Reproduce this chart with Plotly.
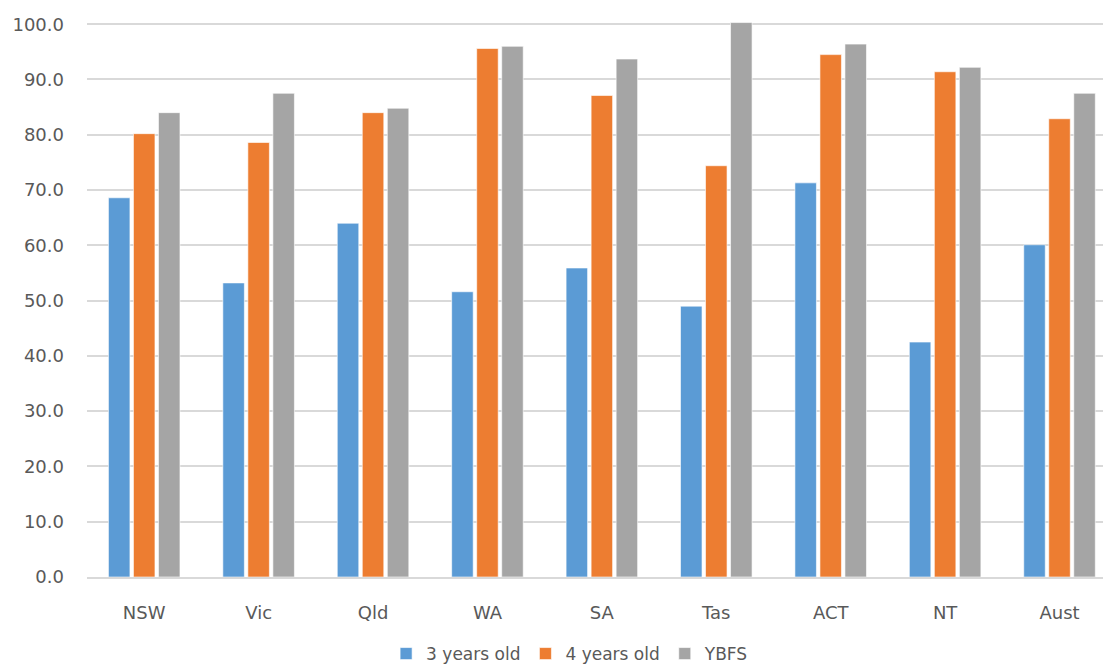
import plotly.graph_objects as go

categories = ["NSW", "Vic", "Qld", "WA", "SA", "Tas", "ACT", "NT", "Aust"]
three_years = [68.6, 53.2, 64.0, 51.6, 55.9, 49.0, 71.3, 42.5, 60.1]
four_years = [80.2, 78.6, 84.0, 95.6, 87.1, 74.4, 94.5, 91.4, 82.9]
ybfs = [84.0, 87.5, 84.8, 96.0, 93.7, 100.3, 96.4, 92.2, 87.5]
series_names = ["3 years old", "4 years old", "YBFS"]
colors = ["#5B9BD5", "#ED7D31", "#A5A5A5"]
y_ticks = [0, 10, 20, 30, 40, 50, 60, 70, 80, 90, 100]

fig = go.Figure()
for name, vals, col in zip(series_names, [three_years, four_years, ybfs], colors):
    fig.add_trace(go.Bar(
        x=categories, y=vals, name=name,
        marker=dict(color=col, line=dict(color="rgba(255,255,255,0.6)", width=1)),
    ))

font = dict(family="DejaVu Sans", size=18, color="#595959")
fig.update_layout(
    width=1103, height=672,
    margin=dict(l=87, r=0, t=22, b=95, autoexpand=False),
    plot_bgcolor="white", paper_bgcolor="white",
    barmode="group", bargap=0.344, bargroupgap=0.14,
    font=font,
    showlegend=True,
    legend=dict(orientation="h", x=0.475, xanchor="center",
                yref="container", y=-0.009, yanchor="bottom",
                font=dict(family="DejaVu Sans", size=17, color="#595959"),
                itemwidth=30, tracegroupgap=0, traceorder="normal"),
)
fig.update_xaxes(
    range=[-0.5, 8.38], showgrid=False, showline=True, linecolor="#d9d9d9", linewidth=2,
    ticks="", ticklabelstandoff=18, tickfont=font, automargin=False,
)
fig.update_yaxes(
    range=[0, 100.4], tickvals=y_ticks, ticktext=[f"{v:.1f}" for v in y_ticks],
    showgrid=True, gridcolor="#d9d9d9", gridwidth=1.5, zeroline=False,
    showline=False, ticks="", ticklabelstandoff=22, tickfont=font, automargin=False,
)
fig.write_html("out.html")
